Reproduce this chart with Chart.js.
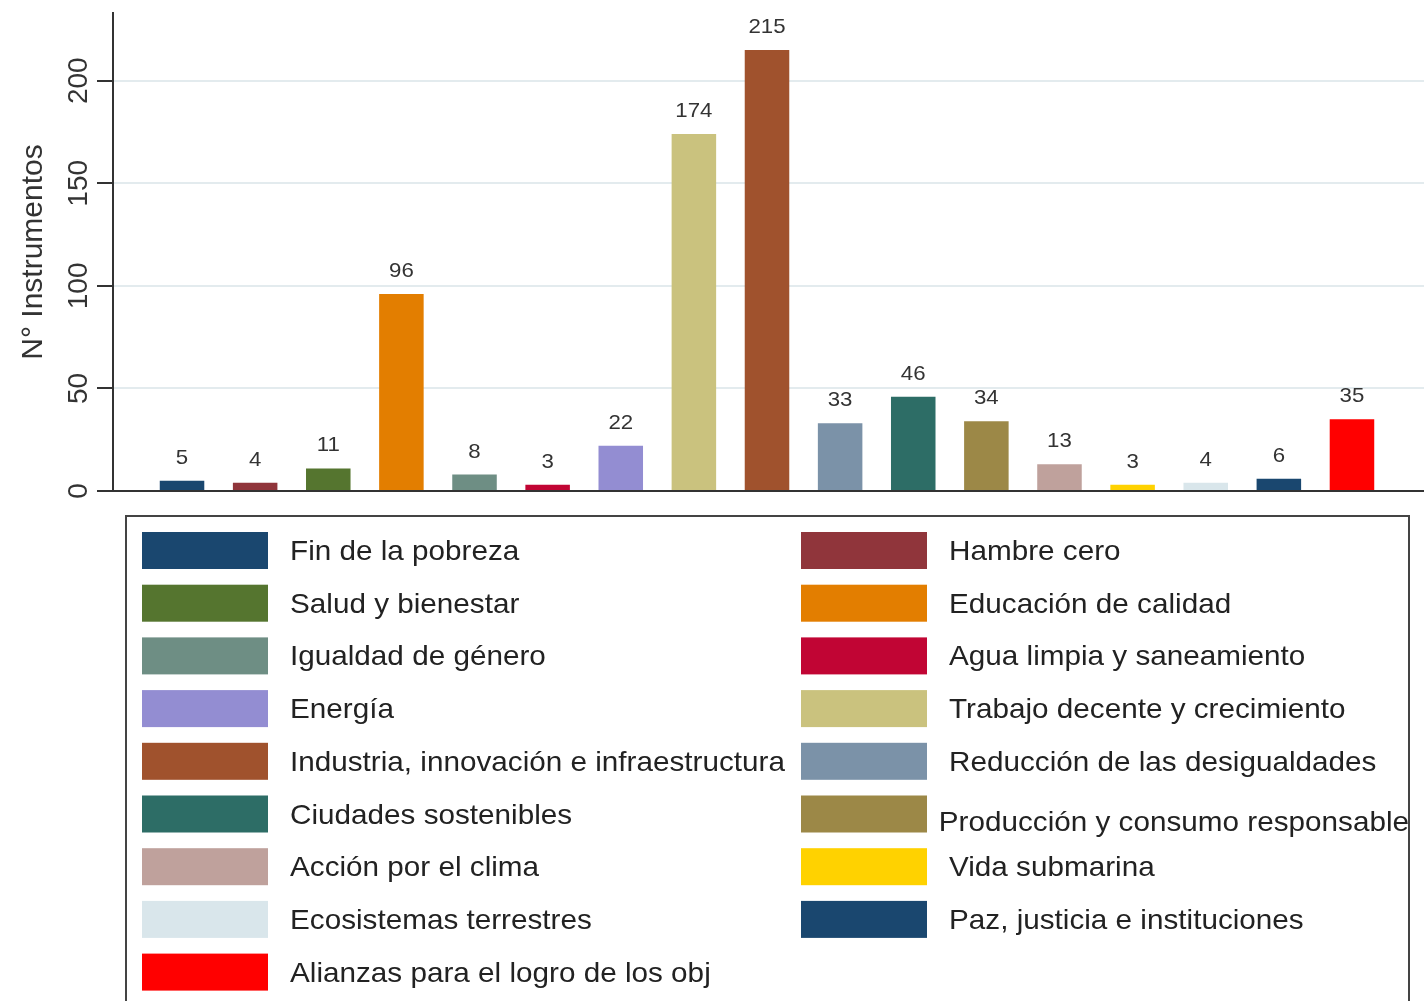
<!DOCTYPE html>
<html>
<head>
<meta charset="utf-8">
<script src="https://cdn.jsdelivr.net/npm/chart.js@4"></script>
<style>
  body { margin: 0; background: #fff; }
</style>
</head>
<body>
<canvas id="mycanvas" width="1424" height="1001"></canvas>
<script>
var categories = [
  'Fin de la pobreza', 'Hambre cero', 'Salud y bienestar', 'Educación de calidad',
  'Igualdad de género', 'Agua limpia y saneamiento', 'Energía', 'Trabajo decente y crecimiento',
  'Industria, innovación e infraestructura', 'Reducción de las desigualdades', 'Ciudades sostenibles',
  'Producción y consumo responsable', 'Acción por el clima', 'Vida submarina',
  'Ecosistemas terrestres', 'Paz, justicia e instituciones', 'Alianzas para el logro de los obj'
];
var counts = [5, 4, 11, 96, 8, 3, 22, 174, 215, 33, 46, 34, 13, 3, 4, 6, 35];
var barColors = [
  '#1a476f', '#90353b', '#55752f', '#e37e00', '#6e8e84', '#c10534', '#938dd2', '#cac27e',
  '#a0522d', '#7b92a8', '#2d6d66', '#9c8847', '#bfa19c', '#ffd200', '#d9e6eb', '#1a476f', '#ff0000'
];
var yTicks = [0, 50, 100, 150, 200];
var yTitle = 'N° Instrumentos';

var FONT = '"Liberation Sans", Arial, sans-serif';

// numbers on top of the bars
var valueLabels = {
  id: 'valueLabels',
  afterDatasetsDraw: function(chart) {
    var ctx = chart.ctx;
    var meta = chart.getDatasetMeta(0);
    ctx.save();
    ctx.fillStyle = '#333';
    ctx.font = '21px ' + FONT;
    ctx.textAlign = 'center';
    ctx.textBaseline = 'alphabetic';
    meta.data.forEach(function(bar, i) {
      ctx.save();
      ctx.translate(bar.x, bar.y - 17);
      ctx.scale(1.06, 1);
      ctx.fillText(String(counts[i]), 0, 0);
      ctx.restore();
    });
    ctx.restore();
  }
};

// stata style vertical tick labels + axis title
var yLabels = {
  id: 'yLabels',
  afterDraw: function(chart) {
    var ctx = chart.ctx;
    var scale = chart.scales.y;
    ctx.save();
    ctx.fillStyle = '#333';
    ctx.textAlign = 'center';
    ctx.textBaseline = 'alphabetic';
    ctx.font = '28px ' + FONT;
    yTicks.forEach(function(v) {
      var py = scale.getPixelForValue(v);
      ctx.save();
      ctx.translate(87, py);
      ctx.rotate(-Math.PI / 2);
      ctx.fillText(String(v), 0, 0);
      ctx.restore();
    });
    ctx.font = '30px ' + FONT;
    ctx.translate(42, (chart.chartArea.top + chart.chartArea.bottom) / 2);
    ctx.rotate(-Math.PI / 2);
    ctx.fillText(yTitle, 0, 0);
    ctx.restore();
  }
};

// two column legend in a box under the plot
var boxLegend = {
  id: 'boxLegend',
  afterDraw: function(chart) {
    var ctx = chart.ctx;
    var boxL = 126, boxT = 516, boxR = 1409;
    ctx.save();
    ctx.strokeStyle = '#444';
    ctx.lineWidth = 2;
    ctx.strokeRect(boxL, boxT, boxR - boxL, 520);
    ctx.font = '28px ' + FONT;
    ctx.textBaseline = 'alphabetic';
    ctx.textAlign = 'left';
    categories.forEach(function(name, i) {
      var row = Math.floor(i / 2), col = i % 2;
      var sx = col === 0 ? 142 : 801;
      var sy = 532 + row * 52.7;
      ctx.fillStyle = barColors[i];
      ctx.fillRect(sx, sy, 126, 37);
      var tx = sx + 148, ty = sy + 28;
      var w = ctx.measureText(name).width * 1.06;
      if (tx + w > boxR) {
        tx = boxR - w;
        ty += 7;
      }
      ctx.fillStyle = '#222';
      ctx.save();
      ctx.translate(tx, ty);
      ctx.scale(1.06, 1);
      ctx.fillText(name, 0, 0);
      ctx.restore();
    });
    ctx.restore();
  }
};

var ctx = document.getElementById('mycanvas');

var barGraph = new Chart(ctx, {
  type: 'bar',
  data: {
    labels: categories,
    datasets: [{
      label: yTitle,
      data: counts.map(function(v, i) { return { x: i, y: v }; }),
      backgroundColor: barColors,
      borderWidth: 0,
      grouped: false,
      categoryPercentage: 1,
      barPercentage: 0.645
    }]
  },
  options: {
    responsive: false,
    animation: false,
    layout: { padding: { top: 13, right: 0, bottom: 510, left: 0 } },
    plugins: {
      legend: { display: false },
      tooltip: { enabled: false }
    },
    scales: {
      x: {
        type: 'linear',
        offset: false,
        min: -0.944,
        max: 16.985,
        ticks: { display: false },
        grid: { display: false },
        border: { display: true, color: '#333', width: 2 },
        afterFit: function(s) { s.height = 0; }
      },
      y: {
        min: 0,
        max: 233,
        afterBuildTicks: function(s) {
          s.ticks = yTicks.map(function(v) { return { value: v }; });
        },
        ticks: { display: false },
        grid: { color: '#e3ebee', lineWidth: 2, tickLength: 16, tickColor: '#333', tickWidth: 2 },
        border: { display: true, color: '#333', width: 2 },
        afterFit: function(s) { s.width = 113; }
      }
    }
  },
  plugins: [valueLabels, yLabels, boxLegend]
});
</script>
</body>
</html>
